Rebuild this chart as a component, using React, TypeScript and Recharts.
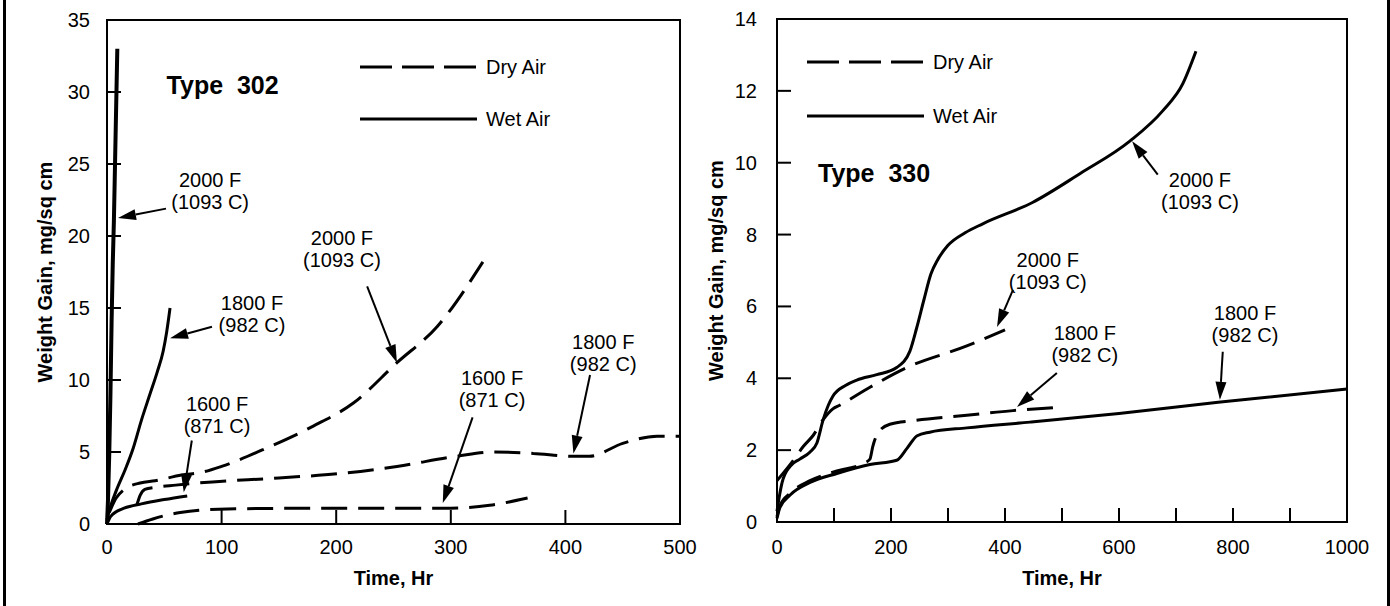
import React from 'react';
import { LineChart, Line, XAxis, YAxis, ReferenceArea, ReferenceLine, ReferenceDot, Legend } from 'recharts';

const FONT = '"Liberation Sans", Arial, Helvetica, sans-serif';

// ---- Type 302 (left panel) ----
const ticksX302 = [0, 100, 200, 300, 400, 500];
const ticksY302 = [0, 5, 10, 15, 20, 25, 30, 35];

const wet302_2000 = [
  { t: 0, w: 0 }, { t: 1, w: 2 }, { t: 2, w: 5 }, { t: 3, w: 9 }, { t: 4, w: 14 },
  { t: 5, w: 18 }, { t: 6, w: 21 }, { t: 7, w: 25 }, { t: 8, w: 29 }, { t: 9, w: 33 },
];
const wet302_1800 = [
  { t: 0, w: 0.3 }, { t: 3, w: 1.2 }, { t: 8, w: 2.3 }, { t: 16, w: 3.8 }, { t: 23, w: 5.3 },
  { t: 30, w: 7.2 }, { t: 37, w: 8.9 }, { t: 44, w: 10.6 }, { t: 49, w: 12 }, { t: 52, w: 13.3 },
  { t: 55, w: 15 },
];
const wet302_1600 = [
  { t: 0, w: 0 }, { t: 3, w: 0.5 }, { t: 8, w: 0.85 }, { t: 15, w: 1.1 }, { t: 30, w: 1.4 },
  { t: 50, w: 1.7 }, { t: 70, w: 1.95 },
];
const dry302_2000 = [
  { t: 2, w: 0.8 }, { t: 8, w: 1.8 }, { t: 15, w: 2.4 }, { t: 29, w: 2.85 }, { t: 42, w: 3.0 },
  { t: 65, w: 3.4 }, { t: 83, w: 3.6 }, { t: 100, w: 4.0 }, { t: 140, w: 5.3 }, { t: 180, w: 6.8 },
  { t: 215, w: 8.4 }, { t: 253, w: 11.2 }, { t: 288, w: 13.7 }, { t: 328, w: 18.2 },
];
const dry302_1800 = [
  { t: 26, w: 1.3 }, { t: 29, w: 2.0 }, { t: 33, w: 2.4 }, { t: 42, w: 2.55 }, { t: 60, w: 2.7 },
  { t: 80, w: 2.85 }, { t: 150, w: 3.2 }, { t: 203, w: 3.5 }, { t: 253, w: 4.0 }, { t: 305, w: 4.7 },
  { t: 337, w: 5.0 }, { t: 372, w: 4.9 }, { t: 407, w: 4.7 }, { t: 421, w: 4.7 }, { t: 450, w: 5.6 },
  { t: 480, w: 6.1 }, { t: 500, w: 6.1 },
];
const dry302_1600 = [
  { t: 27, w: 0 }, { t: 40, w: 0.35 }, { t: 64, w: 0.8 }, { t: 105, w: 1.05 }, { t: 200, w: 1.1 },
  { t: 300, w: 1.1 }, { t: 334, w: 1.3 }, { t: 367, w: 1.8 },
];

const notes302 = [
  { t: 90, w: 23.1, lines: ['2000 F', '(1093 C)'] },
  { t: 126.5, w: 14.6, lines: ['1800 F', '(982 C)'] },
  { t: 96, w: 7.6, lines: ['1600 F', '(871 C)'] },
  { t: 205, w: 19.1, lines: ['2000 F', '(1093 C)'] },
  { t: 336, w: 9.4, lines: ['1600 F', '(871 C)'] },
  { t: 433, w: 11.9, lines: ['1800 F', '(982 C)'] },
];
const arrows302 = [
  { from: [51.5, 21.9], to: [9.6, 21.25] },
  { from: [91.6, 13.7], to: [55, 12.9] },
  { from: [74, 5.8], to: [67, 2.2] },
  { from: [227, 16.5], to: [253, 11.2] },
  { from: [319, 7.4], to: [293, 1.45] },
  { from: [421.5, 10.35], to: [407, 4.9] },
];

// ---- Type 330 (right panel) ----
const ticksX330 = [0, 100, 200, 300, 400, 500, 600, 700, 800, 900, 1000];
const ticksY330 = [0, 2, 4, 6, 8, 10, 12, 14];

const wet330_2000 = [
  { t: 0, w: 0.3 }, { t: 4, w: 0.7 }, { t: 9, w: 1.1 }, { t: 23, w: 1.55 }, { t: 40, w: 1.75 },
  { t: 58, w: 1.95 }, { t: 70, w: 2.2 }, { t: 81, w: 2.85 }, { t: 90, w: 3.25 }, { t: 98, w: 3.5 },
  { t: 120, w: 3.8 }, { t: 140, w: 3.95 }, { t: 175, w: 4.1 }, { t: 210, w: 4.3 }, { t: 233, w: 4.75 },
  { t: 245, w: 5.4 }, { t: 258, w: 6.2 }, { t: 270, w: 6.9 }, { t: 282, w: 7.3 }, { t: 300, w: 7.7 },
  { t: 330, w: 8.05 }, { t: 361, w: 8.3 }, { t: 449, w: 8.9 }, { t: 532, w: 9.7 }, { t: 619, w: 10.6 },
  { t: 677, w: 11.45 }, { t: 712, w: 12.2 }, { t: 735, w: 13.1 },
];
const dry330_2000 = [
  { t: 0, w: 1.15 }, { t: 28, w: 1.7 }, { t: 46, w: 2.1 }, { t: 63, w: 2.4 }, { t: 81, w: 2.85 },
  { t: 98, w: 3.15 }, { t: 110, w: 3.25 }, { t: 163, w: 3.75 }, { t: 228, w: 4.3 }, { t: 333, w: 4.9 },
  { t: 400, w: 5.35 },
];
const wet330_1800 = [
  { t: 0, w: 0.1 }, { t: 5, w: 0.4 }, { t: 23, w: 0.75 }, { t: 58, w: 1.1 }, { t: 105, w: 1.35 },
  { t: 163, w: 1.6 }, { t: 210, w: 1.72 }, { t: 228, w: 2.05 }, { t: 246, w: 2.4 }, { t: 268, w: 2.5 },
  { t: 333, w: 2.62 }, { t: 444, w: 2.78 }, { t: 600, w: 3.02 }, { t: 774, w: 3.33 }, { t: 1000, w: 3.7 },
];
const dry330_1800 = [
  { t: 0, w: 0.15 }, { t: 5, w: 0.45 }, { t: 23, w: 0.8 }, { t: 58, w: 1.15 }, { t: 105, w: 1.42 },
  { t: 150, w: 1.62 }, { t: 163, w: 1.75 }, { t: 168, w: 2.1 }, { t: 178, w: 2.5 }, { t: 198, w: 2.72 },
  { t: 239, w: 2.82 }, { t: 333, w: 2.97 }, { t: 414, w: 3.1 }, { t: 500, w: 3.2 },
];

const notes330 = [
  { t: 742, w: 9.2, lines: ['2000 F', '(1093 C)'] },
  { t: 475, w: 7.0, lines: ['2000 F', '(1093 C)'] },
  { t: 540, w: 4.96, lines: ['1800 F', '(982 C)'] },
  { t: 821, w: 5.5, lines: ['1800 F', '(982 C)'] },
];
const arrows330 = [
  { from: [668, 9.67], to: [623, 10.6] },
  { from: [414, 6.46], to: [386, 5.43] },
  { from: [491, 4.15], to: [421, 3.2] },
  { from: [782, 4.74], to: [777, 3.4] },
];

const DASH = '26 11';

function Arrow(p: any) {
  const { x1, y1, x2, y2 } = p;
  const ang = Math.atan2(y2 - y1, x2 - x1);
  const L = 18, W = 5.5;
  const bx = x2 - L * Math.cos(ang), by = y2 - L * Math.sin(ang);
  const nx = -Math.sin(ang) * W, ny = Math.cos(ang) * W;
  return (
    <g>
      <line x1={x1} y1={y1} x2={bx} y2={by} stroke="#000" strokeWidth={2} />
      <polygon points={`${x2},${y2} ${bx + nx},${by + ny} ${bx - nx},${by - ny}`} fill="#000" />
    </g>
  );
}

function Note(p: any) {
  const { cx, cy, lines } = p;
  return (
    <text x={cx} y={cy} textAnchor="middle" fontFamily={FONT} fontSize={20} fill="#000">
      <tspan x={cx} y={cy - 11} dominantBaseline="central">{lines[0]}</tspan>
      <tspan x={cx} y={cy + 11} dominantBaseline="central">{lines[1]}</tspan>
    </text>
  );
}

function Title(p: any) {
  const { cx, cy, text } = p;
  return (
    <text x={cx} y={cy} dominantBaseline="central" fontFamily={FONT} fontSize={25} fontWeight="bold" fill="#000" style={{ whiteSpace: 'pre' }}>
      {text}
    </text>
  );
}

function makeYTick(max: number, dx: number) {
  return (props: any) => {
    const { x, y, payload } = props;
    const v = payload.value;
    return (
      <g>
        {v !== 0 && v !== max && <line x1={x} y1={y} x2={x + 14} y2={y} stroke="#000" strokeWidth={2} />}
        <text x={x - dx} y={y} textAnchor="end" dominantBaseline="central" fontFamily={FONT} fontSize={20} fill="#000">{v}</text>
      </g>
    );
  };
}

function makeXTick(max: number, labelEvery: number, dy: number) {
  return (props: any) => {
    const { x, y, payload } = props;
    const v = payload.value;
    return (
      <g>
        {v !== 0 && v !== max && <line x1={x} y1={y} x2={x} y2={y - 14} stroke="#000" strokeWidth={2} />}
        {v % labelEvery === 0 && (
          <text x={x} y={y + dy} textAnchor="middle" dominantBaseline="central" fontFamily={FONT} fontSize={20} fill="#000">{v}</text>
        )}
      </g>
    );
  };
}

function KeyBox({ gap }: { gap: number }) {
  return (
    <svg width={280} height={gap + 24} style={{ display: 'block', overflow: 'visible' }}>
      <line x1={0} y1={10} x2={117} y2={10} stroke="#000" strokeWidth={3} strokeDasharray="32 10" />
      <text x={126} y={10} dominantBaseline="central" fontFamily={FONT} fontSize={20} fill="#000">Dry Air</text>
      <line x1={0} y1={10 + gap} x2={117} y2={10 + gap} stroke="#000" strokeWidth={3} />
      <text x={126} y={10 + gap} dominantBaseline="central" fontFamily={FONT} fontSize={20} fill="#000">Wet Air</text>
    </svg>
  );
}

const yTitle = (cxOff: number) => (p: any) => {
  const vb = p.viewBox;
  const cx = vb.x + cxOff;
  const cy = vb.y + vb.height / 2;
  return (
    <text x={cx} y={cy} transform={`rotate(-90 ${cx} ${cy})`} textAnchor="middle" dominantBaseline="central"
      fontFamily={FONT} fontSize={20} fontWeight="bold" fill="#000">Weight Gain, mg/sq cm</text>
  );
};
const xTitle = (dy: number) => (p: any) => {
  const vb = p.viewBox;
  return (
    <text x={vb.x + vb.width / 2} y={vb.y + dy} textAnchor="middle" dominantBaseline="central"
      fontFamily={FONT} fontSize={20} fontWeight="bold" fill="#000">Time, Hr</text>
  );
};

function seriesLine(key: string, data: any[], dashed: boolean, width = 3) {
  return (
    <Line key={key} data={data} dataKey="w" type="monotone" stroke="#000" strokeWidth={width}
      strokeDasharray={dashed ? DASH : undefined} dot={false} isAnimationActive={false} />
  );
}

export default function App() {
  return (
    <div style={{ position: 'absolute', left: 0, top: 0, width: 1390, height: 606, background: '#fff', overflow: 'hidden' }}>
      <div style={{ position: 'absolute', left: 3, top: -10, width: 1381, height: 630, borderLeft: '3px solid #000', borderRight: '3px solid #000' }} />

      <div style={{ position: 'absolute', left: 0, top: 0 }}>
        <LineChart width={700} height={606} margin={{ top: 20, right: 20, left: 0, bottom: 22 }}>
          <XAxis dataKey="t" type="number" domain={[0, 500]} ticks={ticksX302} height={60}
            axisLine={false} tickLine={false} tickSize={0} tickMargin={0} tick={makeXTick(500, 100, 23)}
            label={{ content: xTitle(54) }} />
          <YAxis type="number" domain={[0, 35]} ticks={ticksY302} width={107}
            axisLine={false} tickLine={false} tickSize={0} tickMargin={0} tick={makeYTick(35, 17)}
            label={{ content: yTitle(45) }} />
          <ReferenceArea x1={0} x2={500} y1={0} y2={35} fill="none" stroke="#000" strokeWidth={2} fillOpacity={0} />
          {seriesLine('w2000', wet302_2000, false, 4)}
          {seriesLine('w1800', wet302_1800, false)}
          {seriesLine('w1600', wet302_1600, false)}
          {seriesLine('d2000', dry302_2000, true)}
          {seriesLine('d1800', dry302_1800, true)}
          {seriesLine('d1600', dry302_1600, true)}
          {arrows302.map((a, i) => (
            <ReferenceLine key={'a' + i} segment={[{ x: a.from[0], y: a.from[1] }, { x: a.to[0], y: a.to[1] }]} shape={Arrow} />
          ))}
          {notes302.map((n, i) => (
            <ReferenceDot key={'n' + i} x={n.t} y={n.w} r={0} shape={(p: any) => <Note {...p} lines={n.lines} />} />
          ))}
          <ReferenceDot x={52} y={30.5} r={0} shape={(p: any) => <Title {...p} text="Type  302" />} />
          <Legend layout="horizontal" verticalAlign="middle" align="center"
            wrapperStyle={{ left: 360, top: 57, width: 280 }} content={() => <KeyBox gap={52} />} />
        </LineChart>
      </div>

      <div style={{ position: 'absolute', left: 700, top: 0 }}>
        <LineChart width={690} height={606} margin={{ top: 19, right: 43, left: 0, bottom: 24 }}>
          <XAxis dataKey="t" type="number" domain={[0, 1000]} ticks={ticksX330} height={60}
            axisLine={false} tickLine={false} tickSize={0} tickMargin={0} tick={makeXTick(1000, 200, 25)}
            label={{ content: xTitle(56) }} />
          <YAxis type="number" domain={[0, 14]} ticks={ticksY330} width={77}
            axisLine={false} tickLine={false} tickSize={0} tickMargin={0} tick={makeYTick(14, 20)}
            label={{ content: yTitle(16) }} />
          <ReferenceArea x1={0} x2={1000} y1={0} y2={14} fill="none" stroke="#000" strokeWidth={2} fillOpacity={0} />
          {seriesLine('w2000', wet330_2000, false)}
          {seriesLine('d2000', dry330_2000, true)}
          {seriesLine('w1800', wet330_1800, false)}
          {seriesLine('d1800', dry330_1800, true)}
          {arrows330.map((a, i) => (
            <ReferenceLine key={'a' + i} segment={[{ x: a.from[0], y: a.from[1] }, { x: a.to[0], y: a.to[1] }]} shape={Arrow} />
          ))}
          {notes330.map((n, i) => (
            <ReferenceDot key={'n' + i} x={n.t} y={n.w} r={0} shape={(p: any) => <Note {...p} lines={n.lines} />} />
          ))}
          <ReferenceDot x={72} y={9.7} r={0} shape={(p: any) => <Title {...p} text="Type  330" />} />
          <Legend layout="horizontal" verticalAlign="middle" align="center"
            wrapperStyle={{ left: 107, top: 52, width: 280 }} content={() => <KeyBox gap={54} />} />
        </LineChart>
      </div>
    </div>
  );
}
